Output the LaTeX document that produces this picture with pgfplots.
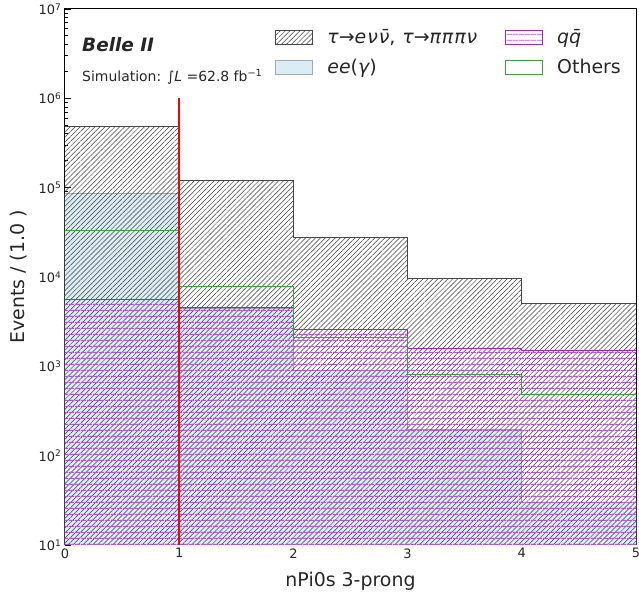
\documentclass[border=0pt]{standalone}
\usepackage{fontspec}
\setmainfont{DejaVu Sans}
\usepackage{pgfplots}
\pgfplotsset{compat=1.18}
\usetikzlibrary{patterns.meta}

\definecolor{tauedge}{RGB}{70,70,70}
\definecolor{hatchc}{RGB}{60,60,60}
\definecolor{eefill}{RGB}{219,236,244}
\definecolor{eeedge}{RGB}{160,170,175}
\definecolor{qqc}{RGB}{180,80,235}
\definecolor{qqedge}{RGB}{150,40,205}
\definecolor{othc}{RGB}{60,160,60}
\definecolor{txt}{RGB}{38,38,38}

\tikzset{
  taustyle/.style={draw=tauedge, line width=1bp, pattern={Lines[angle=45,distance=3.5bp,line width=0.5bp]}, pattern color=hatchc},
  eestyle/.style={draw=eeedge, line width=1bp, fill=eefill},
  qqstyle/.style={draw=qqedge, line width=1bp, pattern={Lines[angle=0,distance=6bp,yshift=0.5bp,line width=1bp]}, pattern color=qqc},
  othstyle/.style={draw=othc, line width=1bp},
}

\begin{document}
\begin{tikzpicture}
\begin{axis}[
  scale only axis, width=571bp, height=536bp,
  ymode=log, xmin=0, xmax=5, ymin=10, ymax=1e7,
  xtick={0,1,2,3,4,5}, minor x tick num=4,
  ytick={1e1,1e2,1e3,1e4,1e5,1e6,1e7},
  yticklabels={10\textsuperscript{1},10\textsuperscript{2},10\textsuperscript{3},10\textsuperscript{4},10\textsuperscript{5},10\textsuperscript{6},10\textsuperscript{7}},
  xticklabels={0,1,2,3,4,5},
  tick align=inside, xtick pos=left, ytick pos=left,
  major tick length=6bp, minor tick length=3bp,
  tick style={black, line width=0.8bp},
  axis line style={black, line width=1bp},
  ticklabel style={font=\fontsize{13}{15}\selectfont, text=txt},
  xlabel={nPi0s 3-prong}, ylabel={Events / (1.0 )},
  label style={font=\fontsize{19}{22}\selectfont, text=txt},
  x label style={at={(axis description cs:0.5,-0.067)}, anchor=center},
  y label style={at={(axis description cs:-0.082,0.5)}, anchor=center, rotate=0},
  legend style={draw=none, fill=none, at={(rel axis cs:0.363,0.969)}, anchor=north west,
    font=\fontsize{19}{22}\selectfont, text=txt, row sep=10bp,
    /tikz/every even column/.append style={column sep=26bp}},
  legend columns=2, legend cell align=left,
  legend image code/.code={\draw[#1] (0bp,-7bp) rectangle (37bp,7bp); \path (49bp,0bp);},
]
\addlegendimage{taustyle}
\addlegendentry{\addfontfeature{LetterSpace=5}{\itshape τ}→{\itshape eνν̄}, {\itshape τ}→{\itshape πππν}}
\addlegendimage{qqstyle}
\addlegendentry{{\itshape qq̄}}
\addlegendimage{eestyle}
\addlegendentry{{\itshape ee}({\itshape γ})}
\addlegendimage{othstyle}
\addlegendentry{Others}

% ee(gamma)
\addplot[const plot, eestyle, forget plot] coordinates {(0,10) (0,8.5e4) (1,4.45e3) (2,890) (3,194) (4,30) (5,30) (5,10)};
% tau
\addplot[const plot, taustyle, forget plot] coordinates {(0,10) (0,4.8e5) (1,1.19e5) (2,2.8e4) (3,9.7e3) (4,5.0e3) (5,5.0e3) (5,10)};
% qq
\addplot[const plot, qqstyle, forget plot] coordinates {(0,10) (0,5.53e3) (1,4.6e3) (2,2.6e3) (3,1.6e3) (4,1.52e3) (5,1.52e3) (5,10)};
% others
\addplot[const plot, othstyle, forget plot] coordinates {(0,10) (0,3.3e4) (1,7.9e3) (2,2.1e3) (3,820) (4,490) (5,490) (5,10)};
% red line
\addplot[red, line width=1.6bp, forget plot] coordinates {(1,10) (1,1e6)};

\node[anchor=west, inner sep=0pt, font=\fontsize{18.5}{21}\selectfont\bfseries\itshape, text=txt] at (rel axis cs:0.0298,0.933) {Belle II};
\node[anchor=west, inner sep=0pt, font=\fontsize{14}{16}\selectfont, text=txt] at (rel axis cs:0.0298,0.873) {Simulation: ∫\textit{L} =62.8 fb\textsuperscript{−1}};
\end{axis}
\pgfresetboundingbox
\path[use as bounding box] (-65bp,-53bp) rectangle (574bp,545bp);
\end{tikzpicture}
\end{document}
